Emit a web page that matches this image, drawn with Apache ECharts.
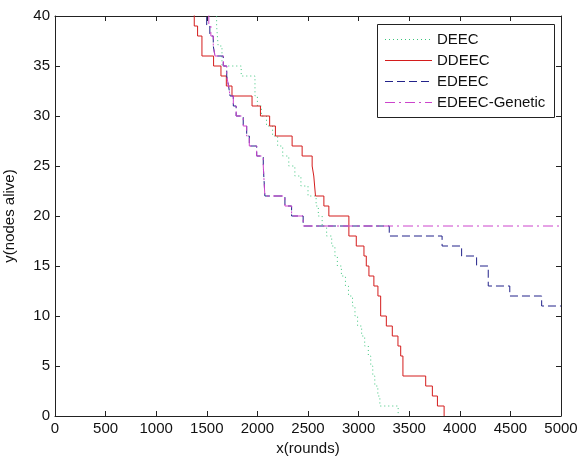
<!DOCTYPE html>
<html>
<head>
<meta charset="utf-8">
<script src="https://cdn.jsdelivr.net/npm/echarts@6/dist/echarts.min.js"></script>
<style>
  html, body { margin: 0; padding: 0; background: #fff; }
  #nodes { width: 577px; height: 457px; }
</style>
</head>
<body>
<div id="nodes"></div>
<script>
// [round, nodes alive] - value holds until the next round in the list
var deec = [
  [1520, 42], [1597, 39], [1612, 37], [1650, 35], [1840, 34], [1976, 32],
  [2000, 31], [2040, 30], [2090, 29], [2150, 28], [2200, 27], [2250, 26],
  [2310, 25], [2370, 24], [2430, 23], [2500, 22], [2580, 21], [2602, 20],
  [2640, 19], [2684, 18], [2734, 17], [2766, 16], [2790, 15], [2830, 14],
  [2870, 13], [2900, 12], [2940, 11], [2964, 10], [2990, 9], [3030, 8],
  [3060, 7], [3096, 6], [3120, 5], [3140, 4], [3160, 3], [3190, 2],
  [3210, 1], [3391, 0]
];
var ddeec = [
  [1350, 42], [1376, 39], [1409, 38], [1452, 36], [1567, 35], [1640, 34],
  [1693, 33], [1749, 32], [1947, 31], [2030, 30], [2121, 29], [2178, 28],
  [2343, 27], [2442, 26], [2541, 25], [2557, 24], [2574, 22], [2657, 21],
  [2706, 20], [2904, 18], [2977, 17], [3053, 16], [3076, 15], [3102, 14],
  [3151, 13], [3191, 12], [3218, 10], [3274, 9], [3333, 8], [3389, 7],
  [3416, 6], [3438, 4], [3663, 3], [3729, 2], [3779, 1], [3845, 0]
];
var edeec = [
  [1470, 42], [1499, 39], [1530, 38], [1564, 37], [1581, 36], [1663, 35],
  [1697, 34], [1715, 33], [1730, 32], [1762, 31], [1790, 30], [1860, 29],
  [1894, 28], [1920, 27], [1993, 26], [2058, 25], [2074, 22], [2272, 21],
  [2338, 20], [2452, 19], [3303, 18], [3825, 17], [4018, 16], [4166, 15],
  [4281, 13], [4494, 12], [4809, 11], [5000, 11]
];
var edeecGenetic = [
  [1500, 42], [1520, 39], [1540, 38], [1564, 37], [1581, 36], [1663, 35],
  [1697, 34], [1715, 33], [1730, 32], [1762, 31], [1790, 30], [1860, 29],
  [1894, 28], [1920, 27], [1993, 26], [2058, 25], [2074, 22], [2272, 21],
  [2338, 20], [2452, 19], [5000, 19]
];
var seriesNames = ['DEEC', 'DDEEC', 'EDEEC', 'EDEEC-Genetic'];

// matlab-ish line specs  g:  r-  b--  m-.
var lineColors = ['#3cc47c', '#d41c1c', '#22228a', '#cc44cc'];
var lineDashes = [[1, 3], null, [8, 4], [10, 4, 2, 4]];

var fontName = 'Liberation Sans';

function frameAxis(extra) {
  var ax = {
    type: 'value',
    axisLine: { show: true, onZero: false, lineStyle: { color: '#222', width: 1 } },
    axisTick: { show: true, inside: true, length: 5, lineStyle: { color: '#222' } },
    splitLine: { show: false },
    axisLabel: { show: false }
  };
  for (var k in extra) ax[k] = extra[k];
  return ax;
}

// legend box drawn by hand (matlab style: short line sample + name)
function legendBox() {
  var items = [{
    type: 'rect',
    shape: { x: 377.5, y: 24.5, width: 177, height: 93 },
    style: { fill: '#fff', stroke: '#222', lineWidth: 1 }
  }];
  seriesNames.forEach(function (n, i) {
    var y = 39.5 + i * 21;
    items.push({
      type: 'line',
      shape: { x1: 385, y1: y, x2: 432, y2: y },
      style: { stroke: lineColors[i], lineWidth: 1, lineDash: lineDashes[i] }
    });
    items.push({
      type: 'text',
      x: 437, y: y,
      style: { text: n, fill: '#111', font: '15px "' + fontName + '"', textVerticalAlign: 'middle', verticalAlign: 'middle' }
    });
  });
  return { type: 'group', z: 100, children: items };
}

var allData = [deec, ddeec, edeec, edeecGenetic];

var option = {
  animation: false,
  backgroundColor: '#fff',
  textStyle: { fontFamily: fontName },
  grid: { left: 55, right: 16, top: 16, bottom: 41, containLabel: false, outerBoundsMode: 'none' },
  graphic: [legendBox()],
  xAxis: [
    frameAxis({
      min: 0, max: 5000, interval: 500,
      position: 'bottom',
      name: 'x(rounds)',
      nameLocation: 'middle',
      nameGap: 24,
      nameTextStyle: { fontSize: 15, color: '#111' },
      axisLabel: { show: true, fontSize: 15, color: '#111', margin: 5, formatter: function (v) { return String(v); } }
    }),
    frameAxis({ min: 0, max: 5000, interval: 500, position: 'top' })
  ],
  yAxis: [
    frameAxis({
      min: 0, max: 40, interval: 5,
      position: 'left',
      name: 'y(nodes alive)',
      nameLocation: 'middle',
      nameGap: 38,
      nameTextStyle: { fontSize: 15, color: '#111' },
      axisLabel: { show: true, fontSize: 15, color: '#111', margin: 5 }
    }),
    frameAxis({ min: 0, max: 40, interval: 5, position: 'right' })
  ],
  series: seriesNames.map(function (n, i) {
    return {
      name: n,
      type: 'line',
      step: 'end',
      data: allData[i],
      symbol: 'none',
      clip: true,
      color: lineColors[i],
      lineStyle: { width: 1, type: lineDashes[i] || 'solid', color: lineColors[i] }
    };
  })
};

var nodesChart = echarts.init(document.getElementById('nodes'));
nodesChart.setOption(option);
</script>
</body>
</html>
